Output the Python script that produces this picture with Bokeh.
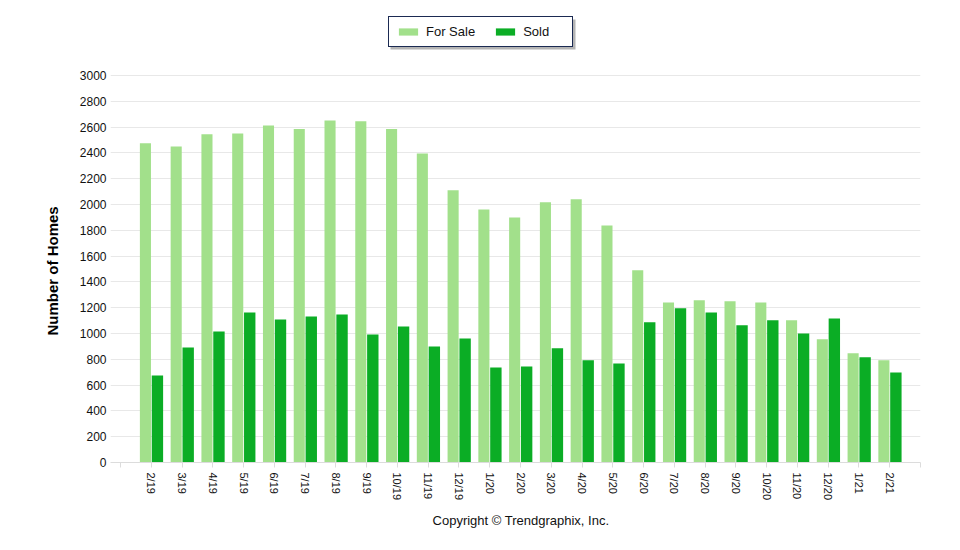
from bokeh.plotting import figure
from bokeh.models import ColumnDataSource, Range1d, FixedTicker, Legend, LegendItem, BoxAnnotation
from bokeh.transform import dodge
from bokeh.embed import file_html
from bokeh.resources import INLINE

months = ["2/19", "3/19", "4/19", "5/19", "6/19", "7/19", "8/19", "9/19", "10/19", "11/19",
          "12/19", "1/20", "2/20", "3/20", "4/20", "5/20", "6/20", "7/20", "8/20", "9/20",
          "10/20", "11/20", "12/20", "1/21", "2/21"]
for_sale = [2475, 2450, 2545, 2550, 2612, 2585, 2652, 2645, 2585, 2395,
            2110, 1962, 1900, 2018, 2040, 1838, 1490, 1240, 1258, 1250,
            1240, 1102, 955, 846, 792]
sold = [675, 892, 1015, 1163, 1108, 1132, 1148, 993, 1055, 900,
        962, 737, 745, 885, 792, 768, 1087, 1195, 1163, 1063,
        1102, 1000, 1117, 815, 698]
y_ticks = list(range(0, 3001, 200))

FONT = "Liberation Sans"
NBSP = "\u00a0"
idx = list(range(len(months)))
src = ColumnDataSource(dict(x=idx, month=months, for_sale=for_sale, sold=sold))

# frame spans y 8..462 px; the value axis top (3000) sits at 75 px, leaving room for the legend
y_end = 3000 * 454 / 387

p = figure(width=952, height=542, output_backend="svg", toolbar_location=None,
           x_range=Range1d(-1.325, 25), y_range=Range1d(0, y_end),
           min_border_left=110, min_border_right=32, min_border_top=8, min_border_bottom=80)
p.outline_line_color = None
p.background_fill_color = "white"

r1 = p.vbar(x=dodge("x", -0.19, range=p.x_range), top="for_sale", width=0.36, source=src,
            fill_color="#A2E08B", line_color=None)
r2 = p.vbar(x=dodge("x", 0.2, range=p.x_range), top="sold", width=0.37, source=src,
            fill_color="#0BAD25", line_color=None)

# x axis
xa = p.xaxis[0]
xa.ticker = FixedTicker(ticks=list(range(-1, len(months) + 1)))
overrides = {i: m for i, m in enumerate(months)}
overrides[-1] = ""
overrides[len(months)] = ""
xa.major_label_overrides = overrides
xa.major_label_orientation = "vertical"
xa.major_label_text_font = FONT
xa.major_label_text_font_size = "11px"
xa.major_label_text_color = "#111111"
xa.axis_line_color = "#dcdcdc"
xa.major_tick_line_color = "#dcdcdc"
xa.major_tick_out = 5
xa.major_tick_in = 0
xa.minor_tick_line_color = None
xa.axis_label = NBSP * 3 + "Copyright © Trendgraphix, Inc."
xa.axis_label_text_font = FONT
xa.axis_label_text_font_style = "normal"
xa.axis_label_text_font_size = "13px"
xa.axis_label_text_color = "#111111"
xa.axis_label_standoff = 10
p.xgrid.grid_line_color = None

# y axis
ya = p.yaxis[0]
ya.ticker = FixedTicker(ticks=y_ticks)
ya.axis_line_color = None
ya.major_tick_line_color = None
ya.minor_tick_line_color = None
ya.major_tick_out = 0
ya.major_tick_in = 0
ya.major_label_standoff = 4
ya.major_label_text_font = FONT
ya.major_label_text_font_size = "12px"
ya.major_label_text_color = "#111111"
ya.axis_label = "Number of Homes" + NBSP * 17
ya.axis_label_text_font = FONT
ya.axis_label_text_font_style = "bold"
ya.axis_label_text_font_size = "15px"
ya.axis_label_text_color = "#000000"
ya.axis_label_standoff = 16
p.ygrid.grid_line_color = "#e8e8e8"
p.ygrid.ticker = FixedTicker(ticks=y_ticks)

shadow = BoxAnnotation(left=390, right=575, top=19, bottom=49,
                       left_units="canvas", right_units="canvas",
                       top_units="canvas", bottom_units="canvas",
                       fill_color="#777777", fill_alpha=0.55, line_color=None)
p.add_layout(shadow)

legend = Legend(items=[LegendItem(label="For Sale", renderers=[r1]),
                       LegendItem(label="Sold", renderers=[r2])],
                location=(278, 415), orientation="horizontal",
                border_line_color="#1b2a52", border_line_width=1, border_line_alpha=1,
                background_fill_color="white", background_fill_alpha=1,
                padding=7, spacing=18, margin=0,
                glyph_width=24, glyph_height=9, label_standoff=6,
                label_text_font=FONT, label_text_font_size="13px", label_text_color="#111111",
                label_height=12, label_width=42)
p.add_layout(legend, "center")

open("out.html", "w").write(file_html(p, INLINE))
